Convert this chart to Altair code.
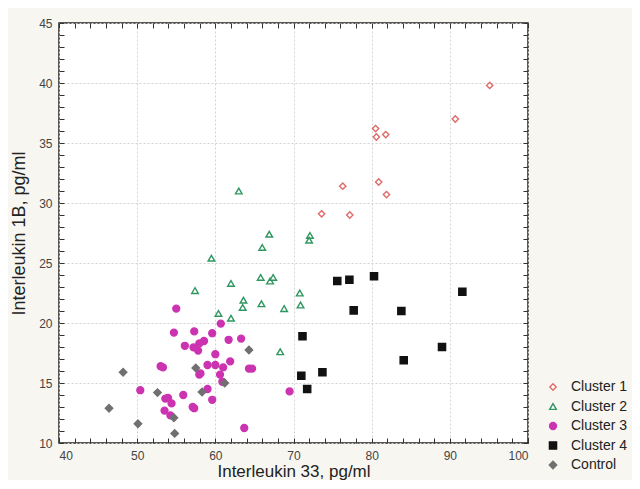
import altair as alt
import pandas as pd

groups = ["Cluster 1", "Cluster 2", "Cluster 3", "Cluster 4", "Control"]

c1_x = [95.1, 90.7, 80.5, 80.6, 81.8, 76.3, 80.9, 81.9, 73.6, 77.2]
c1_y = [39.8, 37.0, 36.2, 35.5, 35.7, 31.4, 31.75, 30.7, 29.1, 29.0]

c2_x = [63.0, 66.9, 66.0, 59.5, 65.8, 67.0, 67.4, 62.0, 57.4, 63.6,
        63.5, 65.9, 60.4, 62.0, 68.3, 72.1, 72.0, 70.8, 68.8, 70.9]
c2_y = [31.0, 27.4, 26.3, 25.4, 23.8, 23.5, 23.8, 23.3, 22.7, 21.9,
        21.3, 21.6, 20.8, 20.4, 17.6, 27.3, 26.9, 22.5, 21.2, 21.5]

c3_x = [55.0, 57.3, 54.7, 59.6, 60.7, 56.1, 57.2, 57.8, 57.95, 58.55,
        61.7, 63.3, 60.0, 59.0, 60.0, 61.9, 61.0, 53.0, 53.3, 64.3,
        64.7, 57.95, 58.1, 60.6, 60.9, 50.4, 55.9, 59.0, 59.6, 53.6,
        53.95, 54.4, 53.5, 54.25, 57.1, 57.3, 63.7, 69.5]
c3_y = [21.2, 19.3, 19.2, 19.15, 19.95, 18.1, 17.97, 17.7, 18.3, 18.5,
        18.6, 18.7, 17.4, 16.5, 16.5, 16.8, 16.3, 16.4, 16.3, 16.2,
        16.2, 15.7, 15.8, 15.7, 15.1, 14.4, 14.0, 14.5, 13.6, 13.7,
        13.75, 13.3, 12.7, 12.3, 13.0, 12.9, 11.25, 14.3]

c4_x = [75.6, 77.15, 80.3, 91.6, 77.7, 83.8, 71.15, 89.0, 84.1, 73.7, 71.0, 71.75]
c4_y = [23.5, 23.6, 23.9, 22.6, 21.05, 21.0, 18.9, 18.0, 16.9, 15.9, 15.6, 14.5]

ctl_x = [48.2, 46.4, 50.1, 52.6, 54.7, 54.8, 57.5, 58.3, 61.2, 64.3]
ctl_y = [15.9, 12.9, 11.6, 14.2, 12.1, 10.8, 16.25, 14.25, 15.0, 17.75]

x_labels = [40, 50, 60, 70, 80, 90, 100]
y_labels = [10, 15, 20, 25, 30, 35, 40, 45]
x_minor = list(range(40, 101, 2))
y_minor = list(range(10, 46, 1))

series = [(c1_x, c1_y), (c2_x, c2_y), (c3_x, c3_y), (c4_x, c4_y), (ctl_x, ctl_y)]
frames = []
for g, (xs, ys) in zip(groups, series):
    frames.append(pd.DataFrame({"x": xs, "y": ys, "group": g}))
df = pd.concat(frames, ignore_index=True)

stroke_range = ["#e06a6a", "#2f9660", "#cc33b0", "#111111", "#707070"]
fill_range = ["white", "white", "#cc33b0", "#111111", "#707070"]
shape_range = ["diamond", "triangle-up", "circle", "square", "diamond"]
size_range = [40, 55, 50, 50, 26]

FONT = "Liberation Sans"
xscale = alt.Scale(domain=[40, 100], nice=False, zero=False)
yscale = alt.Scale(domain=[10, 45], nice=False, zero=False)

points = alt.Chart(df).mark_point(filled=False, strokeWidth=1.4, opacity=1).encode(
    x=alt.X("x:Q", scale=xscale, axis=alt.Axis(
        values=x_labels, grid=True, gridDash=[2, 2], gridColor="#d2d2d2",
        ticks=False, domain=False, labelPadding=7, labelFontSize=12,
        labelColor="#444", labelFont=FONT, title="Interleukin 33, pg/ml",
        titleFontSize=17, titleFontWeight="normal", titleFont=FONT,
        titleColor="#222", titlePadding=2)),
    y=alt.Y("y:Q", scale=yscale, axis=alt.Axis(
        values=y_labels, grid=True, gridDash=[2, 2], gridColor="#d2d2d2",
        ticks=False, domain=False, labelPadding=7, labelFontSize=12,
        labelColor="#444", labelFont=FONT, title="Interleukin 1B, pg/ml",
        titleFontSize=18, titleFontWeight="normal", titleFont=FONT,
        titleColor="#222", titlePadding=10)),
    color=alt.Color("group:N", scale=alt.Scale(domain=groups, range=stroke_range),
                    legend=alt.Legend(orient="none", legendX=487, legendY=357,
                                      title=None, labelFontSize=14, labelFont=FONT,
                                      labelColor="#222", rowPadding=5.5,
                                      labelOffset=11, symbolStrokeWidth=1.4,
                                      padding=0)),
    fill=alt.Fill("group:N", scale=alt.Scale(domain=groups, range=fill_range)),
    shape=alt.Shape("group:N", scale=alt.Scale(domain=groups, range=shape_range)),
    size=alt.Size("group:N", scale=alt.Scale(domain=groups, range=size_range)),
)

def tick_layer(xo, yo):
    return alt.Chart(df).mark_point(opacity=0, size=1).encode(
        x=alt.X("x:Q", scale=xscale, axis=alt.Axis(
            orient=xo, offset=-5, values=x_minor, tickSize=5, labels=False,
            domain=False, grid=False, title=None, tickColor="#333", tickWidth=1)),
        y=alt.Y("y:Q", scale=yscale, axis=alt.Axis(
            orient=yo, offset=-5, values=y_minor, tickSize=5, labels=False,
            domain=False, grid=False, title=None, tickColor="#333", tickWidth=1)),
    )

chart = alt.layer(points, tick_layer("bottom", "left"), tick_layer("top", "right")).resolve_axis(
    x="independent", y="independent"
).properties(
    width=469, height=420,
    padding={"left": 51, "top": 15, "right": 104, "bottom": 37},
    autosize=alt.AutoSizeParams(type="none"),
    background="#f8f6f0",
).configure_view(stroke="#222", strokeWidth=1.5, fill="white")

chart.save("out.html", embed_options={"renderer": "svg", "actions": False})
